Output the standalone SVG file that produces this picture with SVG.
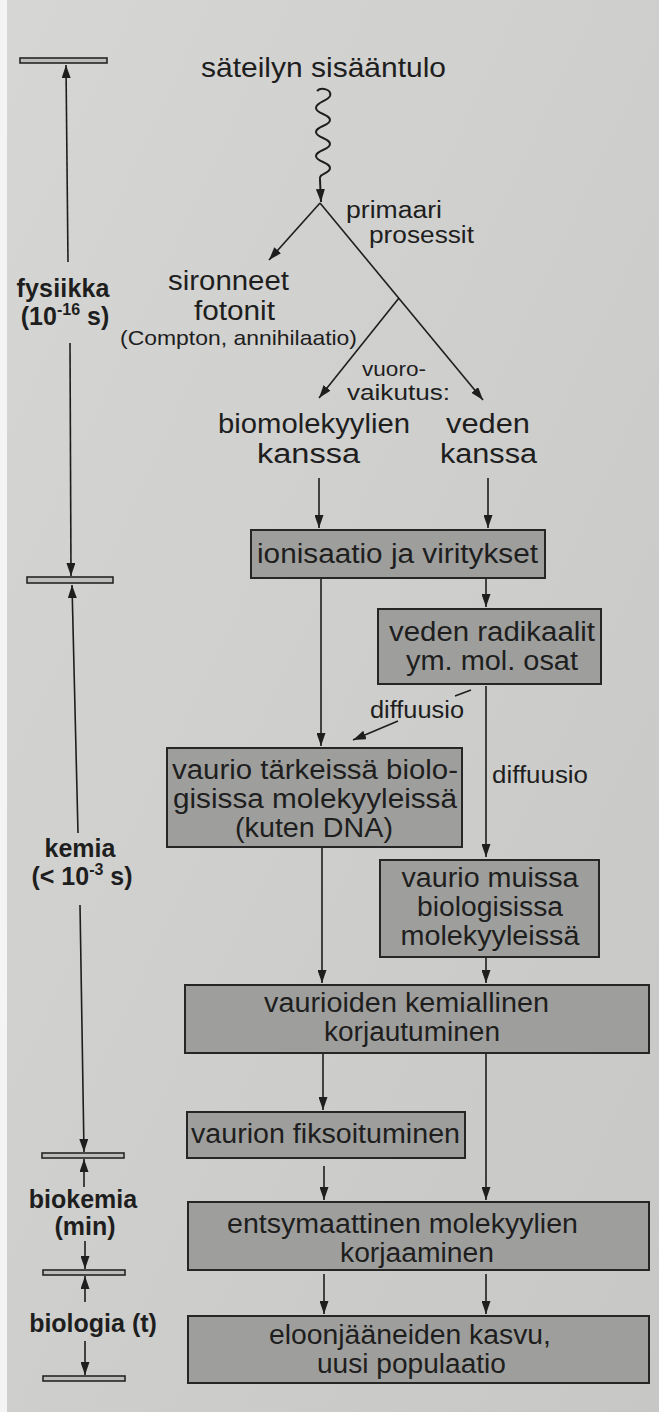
<svg xmlns="http://www.w3.org/2000/svg" width="659" height="1412" viewBox="0 0 659 1412">
<defs>
<linearGradient id="bg" x1="0" y1="0" x2="1" y2="1">
<stop offset="0" stop-color="#d6d6d4"/>
<stop offset="1" stop-color="#c7c7c5"/>
</linearGradient>
<marker id="ah" viewBox="0 0 13 9" refX="13" refY="4.5" markerWidth="13" markerHeight="9" markerUnits="userSpaceOnUse" orient="auto">
<path d="M0,0 L13,4.5 L0,9 z" fill="#1e1e1e"/>
</marker>
<style>
.t{font-family:"Liberation Sans",Arial,sans-serif;font-size:27px;fill:#1e1e1e;text-anchor:middle}
.s{font-size:23px}
.b{font-weight:bold;font-size:25px}
.box{fill:#9e9e9c;stroke:#262626;stroke-width:2}
.bar{fill:#bdbdbb;stroke:#262626;stroke-width:1.6}
.ln{fill:none;stroke:#1e1e1e;stroke-width:1.6}
.ar{marker-end:url(#ah)}
</style>
</defs>
<rect x="0" y="0" width="659" height="1412" fill="url(#bg)"/>
<rect x="0" y="0" width="7" height="1412" fill="#f4f4f4"/>

<g id="connectors">
<path class="ln ar" style="stroke-width:2" d="M317,91 c4,-4 15,-2 13,5 c-2,5 -14,6 -14,12 c0,6 14,6 14,12 c0,6 -14,6 -14,12 c0,6 14,6 14,12 c0,6 -14,6 -14,12 c0,6 14,6 14,12 c0,6 -12,5 -10,12 L321,202"/>
<line class="ln ar" x1="320" y1="203" x2="269" y2="260"/>
<line class="ln ar" x1="320" y1="203" x2="483" y2="400"/>
<line class="ln ar" x1="399" y1="298" x2="319" y2="398"/>
<line class="ln ar" x1="319" y1="478" x2="319" y2="528"/>
<line class="ln ar" x1="488" y1="478" x2="488" y2="528"/>
<line class="ln ar" x1="321" y1="579" x2="321" y2="746"/>
<line class="ln ar" x1="486" y1="579" x2="486" y2="607"/>
<line class="ln" x1="471" y1="690" x2="455" y2="696"/>
<line class="ln ar" x1="398" y1="721" x2="353" y2="740"/>
<line class="ln ar" x1="486" y1="686" x2="486" y2="857"/>
<line class="ln ar" x1="322" y1="848" x2="322" y2="983"/>
<line class="ln ar" x1="486" y1="958" x2="486" y2="983"/>
<line class="ln ar" x1="323" y1="1054" x2="323" y2="1110"/>
<line class="ln ar" x1="486" y1="1054" x2="486" y2="1200"/>
<line class="ln ar" x1="324" y1="1166" x2="324" y2="1200"/>
<line class="ln ar" x1="324" y1="1274" x2="324" y2="1314"/>
<line class="ln ar" x1="486" y1="1274" x2="486" y2="1314"/>
<!-- time axis -->
<line class="ln ar" x1="68" y1="262" x2="66" y2="65"/>
<line class="ln ar" x1="70" y1="343" x2="71" y2="576"/>
<line class="ln ar" x1="78" y1="833" x2="72" y2="585"/>
<line class="ln ar" x1="80" y1="905" x2="84" y2="1152"/>
<line class="ln ar" x1="84" y1="1187" x2="84" y2="1159"/>
<line class="ln ar" x1="85" y1="1241" x2="85" y2="1269"/>
<line class="ln ar" x1="85" y1="1302" x2="85" y2="1276"/>
<line class="ln ar" x1="85" y1="1341" x2="85" y2="1375"/>
</g>

<g id="axis">
<rect class="bar" x="20" y="58" width="87" height="5"/>
<rect class="bar" x="27" y="577" width="86" height="6"/>
<rect class="bar" x="42" y="1153" width="82" height="5"/>
<rect class="bar" x="43" y="1270" width="82" height="5"/>
<rect class="bar" x="43" y="1376" width="82" height="5"/>
<text class="t b" x="63" y="297" textLength="93">fysiikka</text>
<text class="t b" x="65" y="325">(10<tspan font-size="16" dy="-10">-16</tspan><tspan dy="10"> s)</tspan></text>
<text class="t b" x="80" y="857">kemia</text>
<text class="t b" x="82" y="885">(&lt; 10<tspan font-size="16" dy="-10">-3</tspan><tspan dy="10"> s)</tspan></text>
<text class="t b" x="83" y="1208">biokemia</text>
<text class="t b" x="85" y="1235">(min)</text>
<text class="t b" x="93" y="1332">biologia (t)</text>
</g>

<g id="n-input">
<text class="t" style="font-size:28px" x="323.5" y="77" textLength="245" lengthAdjust="spacingAndGlyphs">säteilyn sisääntulo</text>
</g>
<g id="n-primary">
<text class="t s" x="394" y="218" textLength="96" lengthAdjust="spacingAndGlyphs">primaari</text>
<text class="t s" x="421.5" y="243" textLength="105" lengthAdjust="spacingAndGlyphs">prosessit</text>
</g>
<g id="n-scattered">
<text class="t" x="228.5" y="290" textLength="121" lengthAdjust="spacingAndGlyphs">sironneet</text>
<text class="t" x="234.5" y="320" textLength="81" lengthAdjust="spacingAndGlyphs">fotonit</text>
<text class="t" x="238.5" y="345" style="font-size:21px" textLength="237" lengthAdjust="spacingAndGlyphs">(Compton, annihilaatio)</text>
</g>
<g id="n-interaction">
<text class="t" style="font-size:21px" x="394" y="376" textLength="64" lengthAdjust="spacingAndGlyphs">vuoro-</text>
<text class="t" style="font-size:22px" x="398.5" y="400" textLength="103" lengthAdjust="spacingAndGlyphs">vaikutus:</text>
</g>
<g id="n-bio">
<text class="t" x="314" y="433" textLength="192" lengthAdjust="spacingAndGlyphs">biomolekyylien</text>
<text class="t" x="308.5" y="463" textLength="103" lengthAdjust="spacingAndGlyphs">kanssa</text>
</g>
<g id="n-water">
<text class="t" x="488" y="433" textLength="84" lengthAdjust="spacingAndGlyphs">veden</text>
<text class="t" x="488.5" y="463" textLength="97" lengthAdjust="spacingAndGlyphs">kanssa</text>
</g>
<g id="n-ionisation">
<rect class="box" x="251" y="530" width="294" height="48"/>
<text class="t" x="397.5" y="563" textLength="281" lengthAdjust="spacingAndGlyphs">ionisaatio ja viritykset</text>
</g>
<g id="n-radicals">
<rect class="box" x="378" y="609" width="223" height="75"/>
<text class="t" x="492" y="641" textLength="206" lengthAdjust="spacingAndGlyphs">veden radikaalit</text>
<text class="t" x="492" y="670" textLength="172" lengthAdjust="spacingAndGlyphs">ym. mol. osat</text>
</g>
<g id="l-diff1">
<text class="t s" x="417" y="718" textLength="94" lengthAdjust="spacingAndGlyphs">diffuusio</text>
</g>
<g id="l-diff2">
<text class="t s" x="540" y="783" textLength="96" lengthAdjust="spacingAndGlyphs">diffuusio</text>
</g>
<g id="n-damage-important">
<rect class="box" x="167" y="748" width="295" height="99"/>
<text class="t" x="315" y="779" textLength="286" lengthAdjust="spacingAndGlyphs">vaurio tärkeissä biolo-</text>
<text class="t" x="315" y="808" textLength="284" lengthAdjust="spacingAndGlyphs">gisissa molekyyleissä</text>
<text class="t" x="314" y="837" textLength="158" lengthAdjust="spacingAndGlyphs">(kuten DNA)</text>
</g>
<g id="n-damage-other">
<rect class="box" x="380" y="860" width="219" height="97"/>
<text class="t" x="490" y="887" textLength="177" lengthAdjust="spacingAndGlyphs">vaurio muissa</text>
<text class="t" x="490" y="916" textLength="146" lengthAdjust="spacingAndGlyphs">biologisissa</text>
<text class="t" x="490" y="945" textLength="179" lengthAdjust="spacingAndGlyphs">molekyyleissä</text>
</g>
<g id="n-chem-repair">
<rect class="box" x="185" y="985" width="464" height="68"/>
<text class="t" x="406.5" y="1012" textLength="285" lengthAdjust="spacingAndGlyphs">vaurioiden kemiallinen</text>
<text class="t" x="412" y="1041" textLength="176" lengthAdjust="spacingAndGlyphs">korjautuminen</text>
</g>
<g id="n-fixation">
<rect class="box" x="187" y="1112" width="278" height="46"/>
<text class="t" x="325.5" y="1143" textLength="269" lengthAdjust="spacingAndGlyphs">vaurion fiksoituminen</text>
</g>
<g id="n-enzymatic">
<rect class="box" x="188" y="1202" width="461" height="68"/>
<text class="t" x="402.5" y="1233" textLength="351" lengthAdjust="spacingAndGlyphs">entsymaattinen molekyylien</text>
<text class="t" x="417" y="1262" textLength="154" lengthAdjust="spacingAndGlyphs">korjaaminen</text>
</g>
<g id="n-growth">
<rect class="box" x="188" y="1316" width="461" height="67"/>
<text class="t" x="410" y="1344" textLength="282" lengthAdjust="spacingAndGlyphs">eloonjääneiden kasvu,</text>
<text class="t" x="411.5" y="1373" textLength="189" lengthAdjust="spacingAndGlyphs">uusi populaatio</text>
</g>
</svg>
